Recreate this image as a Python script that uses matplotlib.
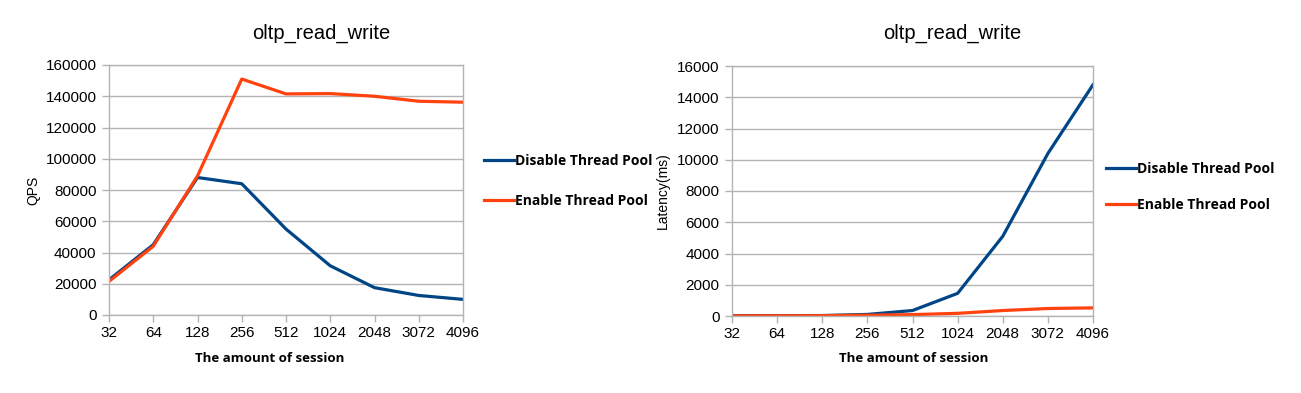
import matplotlib
matplotlib.use("Agg")
import matplotlib.pyplot as plt
from matplotlib.lines import Line2D

sessions = ["32", "64", "128", "256", "512", "1024", "2048", "3072", "4096"]

qps_disable = [22500, 45000, 88000, 84000, 55000, 31500, 17500, 12500, 10000]
qps_enable = [21500, 44000, 89000, 151000, 141500, 141700, 140000, 136800, 136200]

lat_disable = [20, 25, 30, 100, 350, 1450, 5100, 10400, 14800]
lat_enable = [10, 15, 20, 50, 90, 170, 350, 480, 520]

blue = "#004586"
orange = "#ff420e"
grid = "#b3b3b3"

plt.rcParams["font.family"] = ["Liberation Sans", "DejaVu Sans"]

W, H = 1301, 393
fig = plt.figure(figsize=(W / 100, H / 100), dpi=100)


def make_axes(x0, x1, ytop, ybot):
    return fig.add_axes([x0 / W, 1 - ybot / H, (x1 - x0) / W, (ybot - ytop) / H])


def style(ax, ymax, step, ylabel):
    ax.set_xlim(0, len(sessions) - 1)
    ax.set_ylim(0, ymax)
    ax.set_yticks(range(0, ymax + 1, step))
    ax.set_xticks(range(len(sessions)))
    ax.set_xticklabels(sessions)
    ax.grid(axis="y", color=grid, linewidth=1)
    ax.set_axisbelow(True)
    for s in ax.spines.values():
        s.set_color(grid)
        s.set_linewidth(1)
    ax.tick_params(axis="both", colors=grid, labelcolor="black", labelsize=11,
                   length=5, width=1)
    ax.tick_params(axis="x", pad=3)
    ax.tick_params(axis="y", pad=4)
    ax.set_ylabel(ylabel, fontsize=10)
    ax.set_xlabel("The amount of session", fontsize=9.5, fontweight="bold",
                  family=["Open Sans", "DejaVu Sans"])


x = range(len(sessions))

ax1 = make_axes(109, 463, 65, 315)
ax1.plot(x, qps_disable, color=blue, linewidth=2.3, solid_joinstyle="round")
ax1.plot(x, qps_enable, color=orange, linewidth=2.3, solid_joinstyle="round")
style(ax1, 160000, 20000, "QPS")
ax1.yaxis.set_label_coords(-0.215 + 7 / 354, 0.5)
ax1.xaxis.set_label_coords((270 - 109) / 354, -(358 - 315) / 250, transform=ax1.transAxes)

ax2 = make_axes(732, 1093, 66, 316)
ax2.plot(x, lat_disable, color=blue, linewidth=2.3, solid_joinstyle="round")
ax2.plot(x, lat_enable, color=orange, linewidth=2.3, solid_joinstyle="round")
style(ax2, 16000, 2000, "Latency(ms)")
ax2.yaxis.set_label_coords(-0.19 + 6 / 361, 0.5)
ax2.xaxis.set_label_coords((914 - 732) / 361, -(358 - 316) / 250, transform=ax2.transAxes)
for a in (ax1, ax2):
    a.xaxis.label.set_va("center")

fig.text(321 / W, 1 - 33 / H, "oltp_read_write", ha="center", va="center", fontsize=14.5)
fig.text(952 / W, 1 - 33 / H, "oltp_read_write", ha="center", va="center", fontsize=14.5)

handles = [Line2D([], [], color=blue, linewidth=2.3),
           Line2D([], [], color=orange, linewidth=2.3)]
labels = ["Disable Thread Pool", "Enable Thread Pool"]
for lx, ly, sp in [(471, 181, 1.85), (1093, 187, 1.55)]:
    fig.legend(handles, labels, loc="center left", bbox_to_anchor=(lx / W, 1 - ly / H),
               frameon=False, handlelength=2.2, handletextpad=0.1, labelspacing=sp,
               prop={"family": ["Open Sans", "DejaVu Sans"], "weight": "bold", "size": 10})

fig.savefig("out.png", dpi=100)
